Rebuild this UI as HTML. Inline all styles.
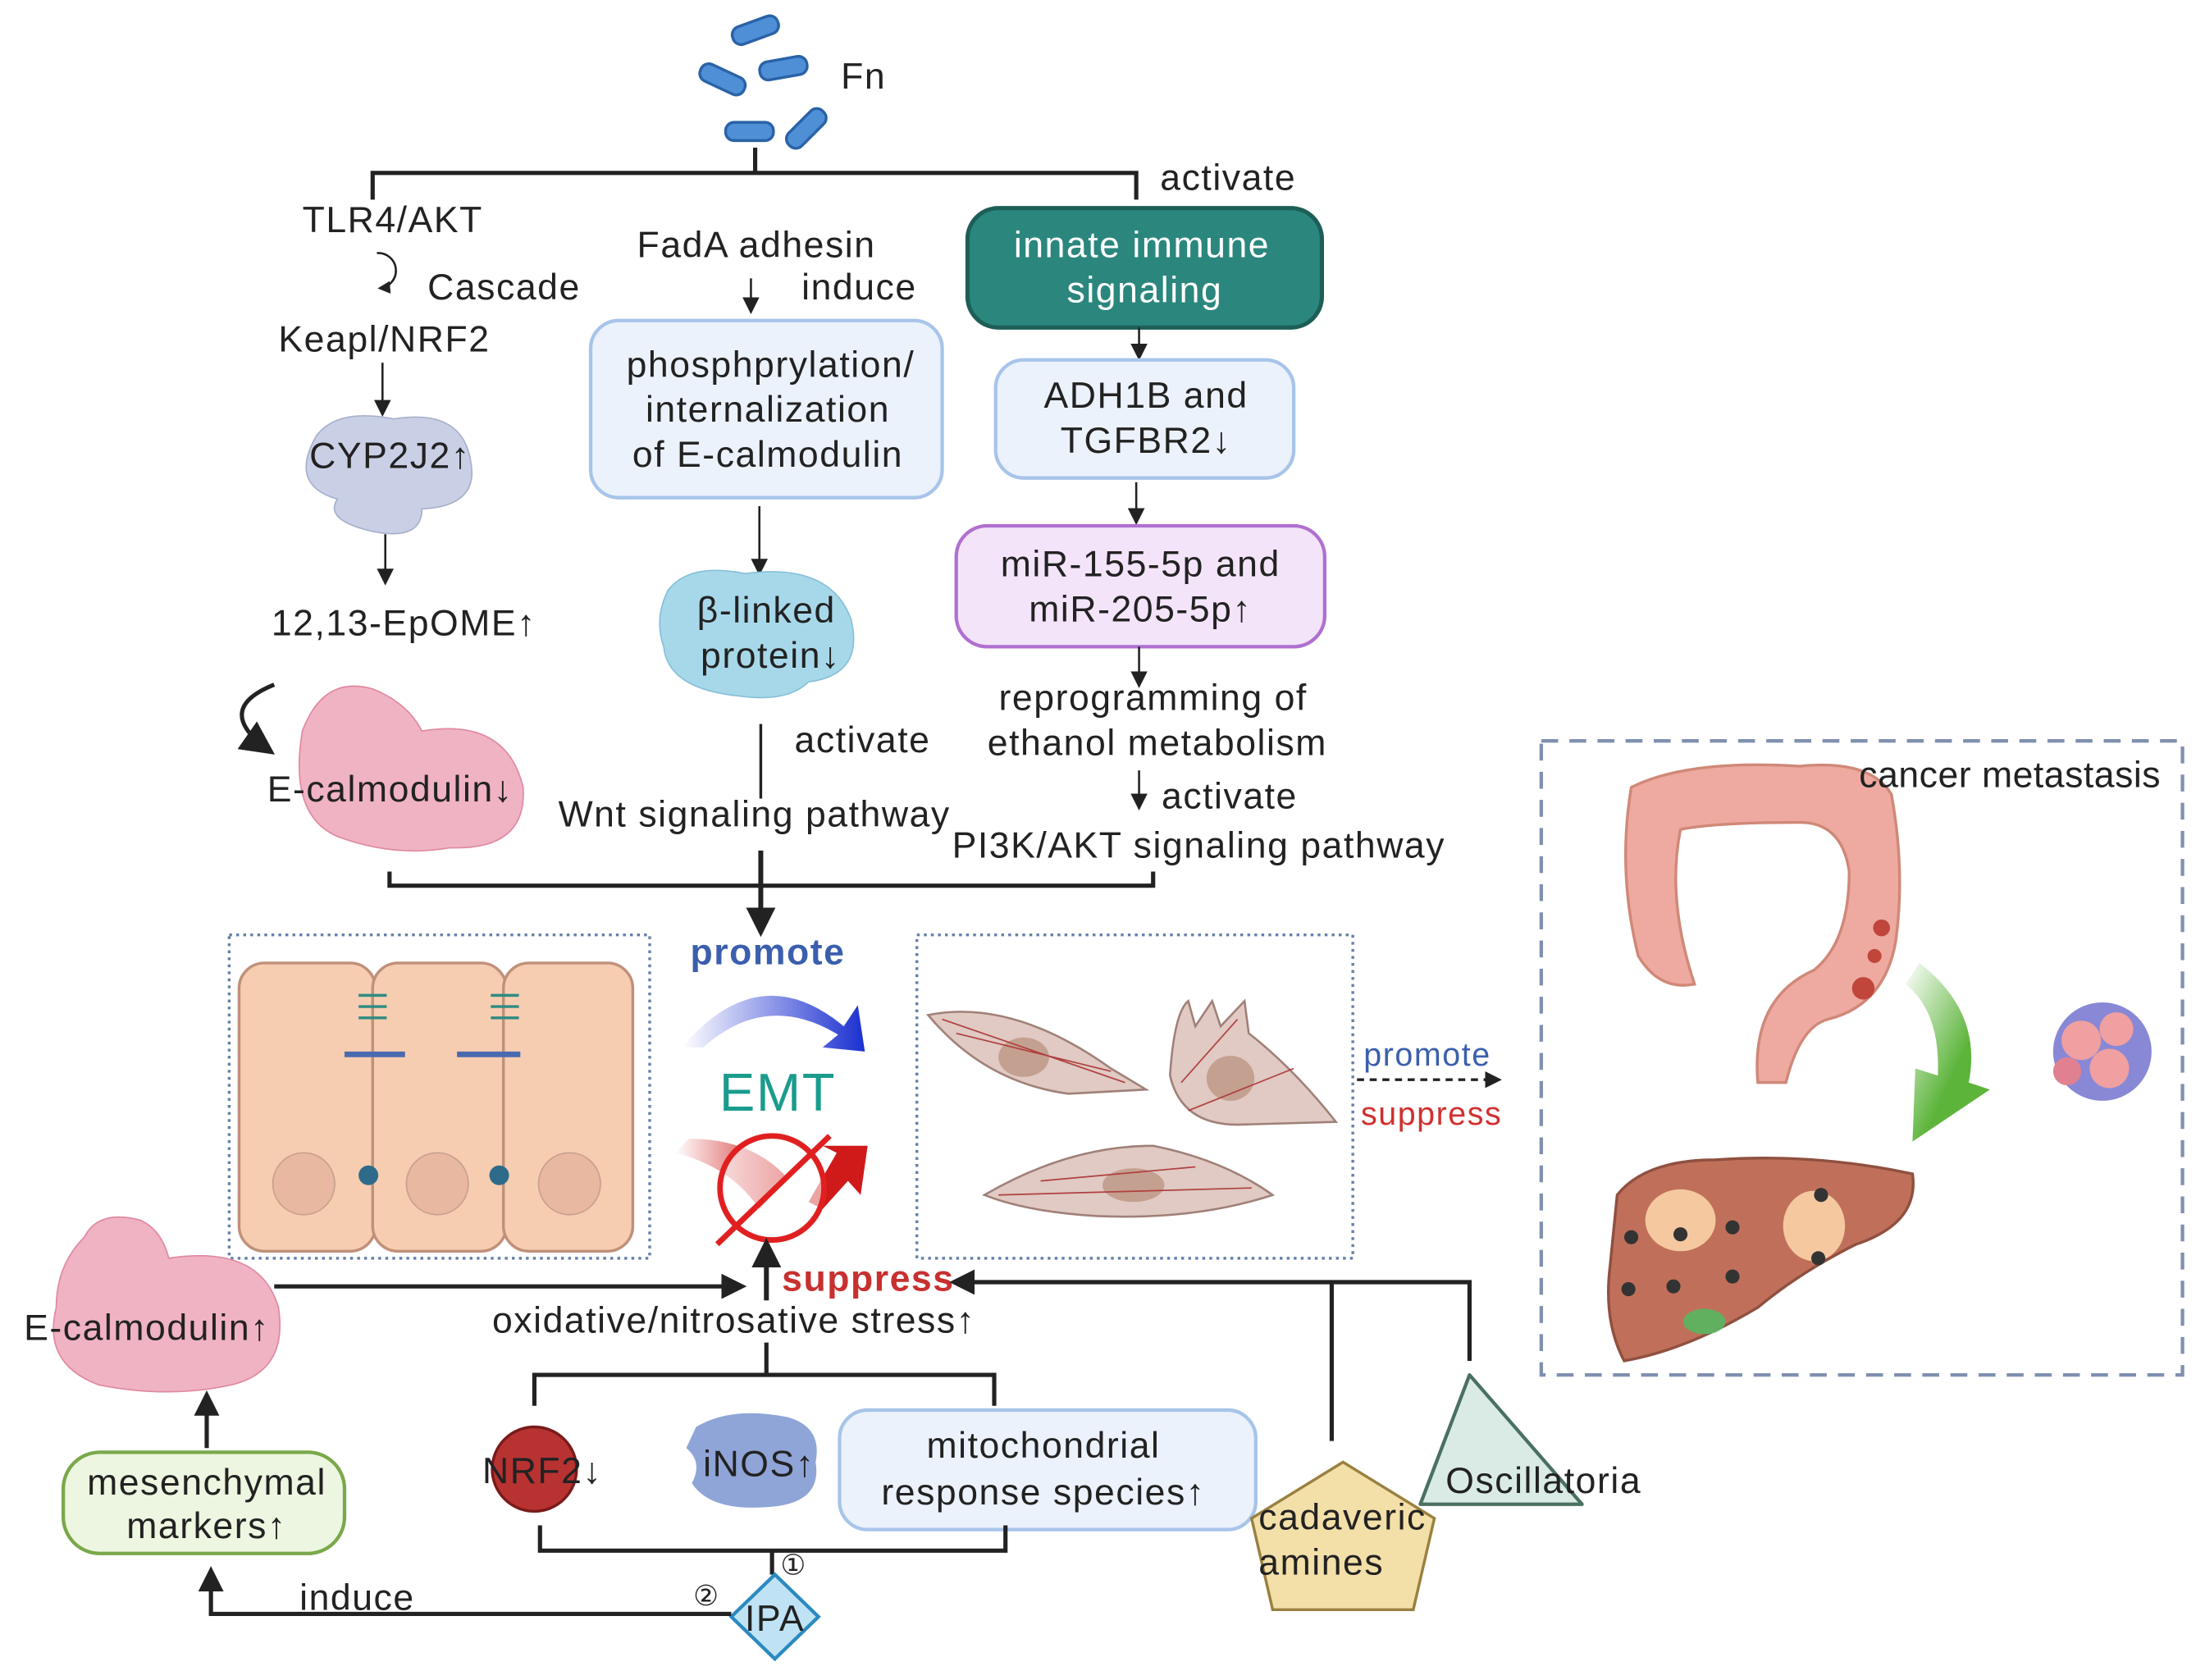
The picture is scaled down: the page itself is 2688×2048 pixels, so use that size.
<!DOCTYPE html>
<html><head><meta charset="utf-8"><style>
html,body{margin:0;padding:0;background:#fff;}
svg{display:block;}
text{font-family:"Liberation Sans",sans-serif;fill:#222;letter-spacing:0.9px;}
</style></head><body>
<svg width="2688" height="2048" viewBox="0 0 1568 1195" preserveAspectRatio="none" xmlns="http://www.w3.org/2000/svg">
<defs>
<marker id="a" markerWidth="8" markerHeight="8" refX="7" refY="4" orient="auto"><path d="M0,0 L8,4 L0,8 z" fill="#222"/></marker>
<marker id="ab" markerWidth="6" markerHeight="6" refX="5" refY="3" orient="auto"><path d="M0,0 L6,3 L0,6 z" fill="#222"/></marker>
<linearGradient id="bl" x1="0" x2="1"><stop offset="0" stop-color="#fff"/><stop offset="1" stop-color="#1a2fd0"/></linearGradient>
<linearGradient id="rd" x1="0" x2="1"><stop offset="0" stop-color="#fff"/><stop offset="1" stop-color="#d01a1a"/></linearGradient>
<linearGradient id="gr" x1="0" y1="0" x2="1" y2="1"><stop offset="0" stop-color="#fff"/><stop offset="0.6" stop-color="#5cb43a"/></linearGradient>
</defs>
<g font-size="26">
<g fill="#4f8fd6" stroke="#2a62a8" stroke-width="2">
<rect x="520" y="15" width="34" height="13" rx="6" transform="rotate(-20 537 21)"/>
<rect x="497" y="50" width="34" height="13" rx="6" transform="rotate(25 514 56)"/>
<rect x="540" y="42" width="34" height="13" rx="6" transform="rotate(-10 557 48)"/>
<rect x="516" y="87" width="34" height="13" rx="6"/>
<rect x="556" y="85" width="34" height="13" rx="6" transform="rotate(-45 573 91)"/>
</g>
<text x="598" y="63">Fn</text>
<path d="M265,142 V123 H808 V142 M537,105 V123" fill="none" stroke="#222" stroke-width="3"/>
<text x="825" y="135">activate</text>
<text x="215" y="165">TLR4/AKT</text>
<path d="M268,180 A12,12 0 1 1 270,205" fill="none" stroke="#222" stroke-width="1.5" marker-end="url(#ab)"/>
<text x="304" y="213">Cascade</text>
<text x="198" y="250">Keapl/NRF2</text>
<line x1="272" y1="258" x2="272" y2="295" stroke="#222" stroke-width="1.5" marker-end="url(#a)"/>
<path d="M225,310 Q240,290 280,298 Q330,290 335,330 Q340,360 300,362 Q300,385 265,378 Q230,370 240,355 Q205,345 225,310z" fill="#c9d0e6" stroke="#a8b0cc"/>
<text x="220" y="333">CYP2J2↑</text>
<line x1="274" y1="380" x2="274" y2="415" stroke="#222" stroke-width="1.5" marker-end="url(#a)"/>
<text x="193" y="452">12,13-EpOME↑</text>
<path d="M195,487 Q150,505 193,535" fill="none" stroke="#222" stroke-width="3" marker-end="url(#a)"/>
<path d="M215,520 Q230,480 265,490 Q290,500 300,520 Q360,510 372,560 Q375,605 320,603 Q280,610 240,595 Q205,580 215,520z" fill="#f0b3c3" stroke="#e08aa2"/>
<text x="190" y="570">E-calmodulin↓</text>
<text x="453" y="183">FadA adhesin</text>
<line x1="534" y1="198" x2="534" y2="222" stroke="#222" stroke-width="1.5" marker-end="url(#a)"/>
<text x="570" y="213">induce</text>
<rect x="420" y="228" width="250" height="126" rx="20" fill="#ebf2fc" stroke="#a8c4ea" stroke-width="2.5"/>
<g text-anchor="middle"><text x="548" y="268">phosphprylation/</text><text x="546" y="300">internalization</text><text x="546" y="332">of E-calmodulin</text></g>
<line x1="540" y1="360" x2="540" y2="408" stroke="#222" stroke-width="1.5" marker-end="url(#a)"/>
<path d="M475,420 Q490,400 530,408 Q590,400 605,440 Q615,480 575,485 Q560,500 525,495 Q475,490 472,460 Q465,440 475,420z" fill="#a7d8ea" stroke="#86c0d8"/>
<g text-anchor="middle"><text x="545" y="443">β-linked</text><text x="548" y="475">protein↓</text></g>
<line x1="541" y1="515" x2="541" y2="568" stroke="#222" stroke-width="2"/>
<text x="565" y="535">activate</text>
<text x="397" y="588">Wnt signaling pathway</text>
<rect x="688" y="148" width="252" height="85" rx="22" fill="#2b877d" stroke="#1d5e57" stroke-width="3"/>
<g text-anchor="middle"><text x="812" y="183" style="fill:#fff">innate immune</text><text x="814" y="215" style="fill:#fff">signaling</text></g>
<line x1="810" y1="233" x2="810" y2="255" stroke="#222" stroke-width="1.5" marker-end="url(#a)"/>
<rect x="708" y="256" width="212" height="84" rx="20" fill="#ebf2fc" stroke="#a8c4ea" stroke-width="2.5"/>
<g text-anchor="middle"><text x="815" y="290">ADH1B and</text><text x="815" y="322">TGFBR2↓</text></g>
<line x1="808" y1="343" x2="808" y2="372" stroke="#222" stroke-width="1.5" marker-end="url(#a)"/>
<rect x="680" y="374" width="262" height="86" rx="22" fill="#f3e4fa" stroke="#b070d0" stroke-width="2.5"/>
<g text-anchor="middle"><text x="811" y="410">miR-155-5p and</text><text x="811" y="442">miR-205-5p↑</text></g>
<line x1="810" y1="460" x2="810" y2="488" stroke="#222" stroke-width="1.5" marker-end="url(#a)"/>
<g text-anchor="middle"><text x="820" y="505">reprogramming of</text><text x="823" y="537">ethanol metabolism</text></g>
<line x1="810" y1="548" x2="810" y2="575" stroke="#222" stroke-width="1.5" marker-end="url(#a)"/>
<text x="826" y="575">activate</text>
<text x="677" y="610">PI3K/AKT signaling pathway</text>
<path d="M277,620 V630 H820 V620" fill="none" stroke="#222" stroke-width="3"/>
<line x1="541" y1="605" x2="541" y2="663" stroke="#222" stroke-width="3.5" marker-end="url(#ab)"/>
<rect x="163" y="665" width="299" height="230" fill="none" stroke="#6680aa" stroke-width="2" stroke-dasharray="2,3"/>
<g fill="#f6cdb0" stroke="#c0907a" stroke-width="2">
<rect x="170" y="685" width="97" height="205" rx="18"/><rect x="265" y="685" width="95" height="205" rx="18"/><rect x="358" y="685" width="92" height="205" rx="18"/>
</g>
<g fill="#e8b8a0" stroke="#c8a090"><circle cx="216" cy="842" r="22"/><circle cx="311" cy="842" r="22"/><circle cx="405" cy="842" r="22"/></g>
<g stroke="#2e8b82" stroke-width="2" fill="none"><path d="M255,708 h20 M255,716 h20 M255,724 h20 M349,708 h20 M349,716 h20 M349,724 h20"/></g>
<g stroke="#4a6ab0" stroke-width="4"><line x1="245" y1="750" x2="288" y2="750"/><line x1="325" y1="750" x2="370" y2="750"/></g>
<g fill="#2e6b8a"><circle cx="262" cy="836" r="7"/><circle cx="355" cy="836" r="7"/></g>
<text x="546" y="686" text-anchor="middle" font-weight="bold" style="fill:#3b5fae">promote</text>
<path d="M485,745 Q540,680 600,730 L610,715 L615,748 L585,745 L596,736 Q545,705 500,745z" fill="url(#bl)"/>
<text x="553" y="790" text-anchor="middle" font-size="38" style="fill:#1a9c8c">EMT</text>
<path d="M480,820 Q520,830 540,860 L560,838 Q535,810 490,810z" fill="url(#rd)"/>
<path d="M575,855 L595,820 L585,815 L617,815 L612,850 L603,840 L585,860z" fill="#d01a1a"/>
<circle cx="549" cy="845" r="37" fill="#fff" fill-opacity="0.6" stroke="#e02020" stroke-width="4"/>
<line x1="510" y1="885" x2="590" y2="808" stroke="#e02020" stroke-width="4"/>
<rect x="652" y="665" width="310" height="230" fill="none" stroke="#6680aa" stroke-width="2" stroke-dasharray="2,3"/>
<g fill="#e0cac3" stroke="#a08078" stroke-width="1.5">
<path d="M660,722 Q720,710 790,760 L815,775 L760,778 Q700,770 660,722z"/>
<path d="M832,765 Q835,720 845,712 L850,730 L862,712 L868,730 L885,712 L888,735 Q920,760 950,798 L880,800 Q840,800 832,765z"/>
<path d="M700,850 Q760,815 820,815 Q870,825 905,850 Q850,868 780,865 Q730,862 700,850z"/>
</g>
<g fill="#c4a090"><ellipse cx="728" cy="752" rx="18" ry="14"/><ellipse cx="875" cy="767" rx="17" ry="16"/><ellipse cx="806" cy="843" rx="22" ry="12"/></g>
<g stroke="#b04040" stroke-width="1" fill="none"><path d="M670,725 L800,770 M680,735 L790,762 M840,770 L880,725 M845,790 L920,760 M710,850 L890,845 M740,840 L850,830"/></g>
<text x="1015" y="758" text-anchor="middle" font-size="23" style="fill:#3b5fae">promote</text>
<line x1="965" y1="768" x2="1066" y2="768" stroke="#222" stroke-width="2" stroke-dasharray="5,4" marker-end="url(#ab)"/>
<text x="1018" y="800" text-anchor="middle" font-size="23" style="fill:#d03030">suppress</text>
<rect x="1096" y="527" width="456" height="451" fill="none" stroke="#8090b0" stroke-width="2.5" stroke-dasharray="12,8"/>
<path d="M1160,560 Q1200,540 1280,545 Q1330,540 1345,565 Q1355,620 1348,670 Q1340,715 1300,725 Q1280,730 1270,770 L1250,770 Q1245,710 1290,690 Q1315,670 1315,620 Q1310,585 1280,585 Q1220,585 1195,590 Q1185,640 1205,700 Q1180,705 1165,680 Q1150,620 1160,560z" fill="#eeaaa0" stroke="#d08878" stroke-width="2"/>
<g fill="#c0453a"><circle cx="1338" cy="660" r="6"/><circle cx="1333" cy="680" r="5"/><circle cx="1325" cy="703" r="8"/></g>
<path d="M1365,685 Q1410,720 1400,770 L1415,775 L1360,812 L1362,760 L1378,765 Q1380,720 1355,700z" fill="url(#gr)"/>
<g><circle cx="1495" cy="748" r="35" fill="#6a6acc" opacity="0.8"/><circle cx="1480" cy="740" r="14" fill="#f0a0a0"/><circle cx="1505" cy="732" r="12" fill="#f0a0a0"/><circle cx="1500" cy="760" r="14" fill="#f0a0a0"/><circle cx="1470" cy="762" r="10" fill="#e08090"/></g>
<path d="M1150,850 Q1170,825 1220,825 Q1290,820 1360,835 Q1365,870 1320,885 Q1280,905 1250,930 Q1200,960 1155,968 Q1140,940 1145,900z" fill="#c0705a" stroke="#905040" stroke-width="2"/>
<ellipse cx="1195" cy="868" rx="25" ry="22" fill="#f5c8a0"/><ellipse cx="1290" cy="872" rx="22" ry="25" fill="#f5c8a0"/>
<ellipse cx="1212" cy="940" rx="15" ry="9" fill="#60b060"/>
<g fill="#333"><circle cx="1160" cy="880" r="5"/><circle cx="1190" cy="915" r="5"/><circle cx="1232" cy="908" r="5"/><circle cx="1158" cy="917" r="5"/><circle cx="1295" cy="850" r="5"/><circle cx="1293" cy="895" r="5"/><circle cx="1232" cy="873" r="5"/><circle cx="1195" cy="878" r="5"/></g>
<text x="1322" y="560" style="letter-spacing:0.3px">cancer metastasis</text>
<path d="M60,880 Q70,860 100,868 Q115,875 120,895 Q185,885 198,930 Q205,975 165,985 Q120,995 70,985 Q30,970 40,930 Q40,900 60,880z" fill="#f0b3c3" stroke="#e08aa2"/>
<text x="17" y="953">E-calmodulin↑</text>
<line x1="195" y1="915" x2="528" y2="915" stroke="#222" stroke-width="3" marker-end="url(#ab)"/>
<text x="556" y="918" font-weight="bold" style="fill:#c83030">suppress</text>
<path d="M947,1025 V912 M1045,968 V912 H678" fill="none" stroke="#222" stroke-width="3" marker-end="url(#ab)"/>
<line x1="545" y1="925" x2="545" y2="884" stroke="#222" stroke-width="3.5" marker-end="url(#ab)"/>
<text x="350" y="948">oxidative/nitrosative stress↑</text>
<path d="M545,955 V978 M380,1000 V978 H707 V1000" fill="none" stroke="#222" stroke-width="3"/>
<circle cx="380" cy="1045" r="30" fill="#b83232" stroke="#7a1a1a" stroke-width="2"/>
<text x="343" y="1055">NRF2↓</text>
<path d="M495,1015 Q520,1000 560,1008 Q585,1015 580,1040 Q585,1070 545,1072 Q505,1075 492,1055 Q500,1040 488,1030z" fill="#8fa5d8"/>
<text x="500" y="1050">iNOS↑</text>
<rect x="597" y="1003" width="296" height="85" rx="20" fill="#ebf2fc" stroke="#a8c4ea" stroke-width="2.5"/>
<g text-anchor="middle"><text x="742" y="1037">mitochondrial</text><text x="742" y="1070">response species↑</text></g>
<path d="M384,1085 V1103 H715 V1085 M549,1103 V1120" fill="none" stroke="#222" stroke-width="3"/>
<text x="555" y="1120" font-size="20">①</text>
<text x="493" y="1142" font-size="20">②</text>
<polygon points="551,1120 582,1150 551,1180 520,1150" fill="#bfe3f5" stroke="#2a8ac0" stroke-width="2.5"/>
<text x="551" y="1160" text-anchor="middle">IPA</text>
<path d="M520,1148 H150 V1117" fill="none" stroke="#222" stroke-width="3" marker-end="url(#ab)"/>
<text x="213" y="1145">induce</text>
<rect x="45" y="1033" width="200" height="72" rx="26" fill="#edf6e0" stroke="#7aa84a" stroke-width="2.5"/>
<g text-anchor="middle"><text x="147" y="1063">mesenchymal</text><text x="147" y="1094">markers↑</text></g>
<line x1="147" y1="1030" x2="147" y2="992" stroke="#222" stroke-width="3" marker-end="url(#ab)"/>
<polygon points="955,1040 1020,1080 1005,1145 905,1145 890,1080" fill="#f3dfa8" stroke="#9a8040" stroke-width="2"/>
<text x="895" y="1088">cadaveric</text><text x="895" y="1120">amines</text>
<polygon points="1045,978 1010,1070 1125,1070" fill="#d9ebe4" stroke="#4a7060" stroke-width="2.5" stroke-linejoin="round"/>
<text x="1028" y="1062">Oscillatoria</text>
</g>
</svg>
</body></html>
